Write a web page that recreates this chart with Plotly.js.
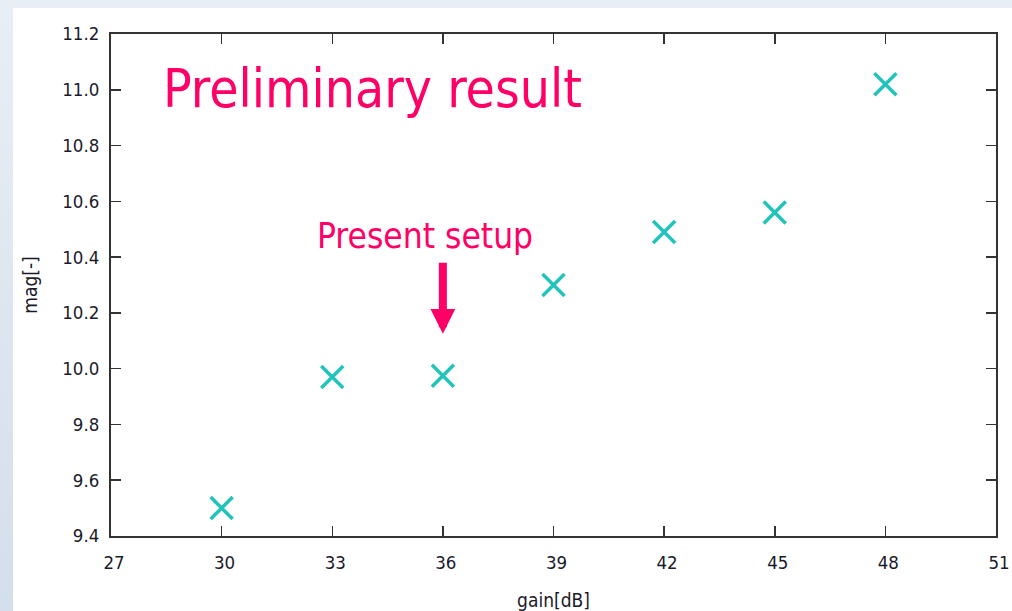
<!DOCTYPE html>
<html>
<head>
<meta charset="utf-8">
<script src="https://cdn.plot.ly/plotly-3.0.1.min.js"></script>
<style>
  html, body { margin: 0; padding: 0; }
  body {
    width: 1012px; height: 611px; overflow: hidden;
    background: linear-gradient(to bottom, #e8eef5 0%, #d3dfeb 100%);
    position: relative;
  }
  #chart { position: absolute; left: 13px; top: 8px; width: 999px; height: 603px; background: #ffffff; }
</style>
</head>
<body>
<div id="chart"></div>
<script>
// Measured magnitude versus amplifier gain
const gainDb = [30, 33, 36, 39, 42, 45, 48];
const mag = [9.50, 9.97, 9.975, 10.30, 10.49, 10.56, 11.02];

// Axis tick values
const xTicks = [27, 30, 33, 36, 39, 42, 45, 48, 51];
const yTicks = [9.4, 9.6, 9.8, 10.0, 10.2, 10.4, 10.6, 10.8, 11.0, 11.2];
const yTickText = ['9.4', '9.6', '9.8', '10.0', '10.2', '10.4', '10.6', '10.8', '11.0', '11.2'];

// Highlighted working point
const presentGain = 36;
const presentLabel = 'Present setup';
const headline = 'Preliminary result';

const FONT = '"DejaVu Sans Condensed", "DejaVu Sans", sans-serif';
const PINK = '#ff0066';
const AXIS = '#333333';
const TEXT = '#1a1a2a';

const trace = {
  x: gainDb,
  y: mag,
  type: 'scatter',
  mode: 'markers',
  marker: {
    symbol: 'x-thin',
    size: 22,
    color: '#20c4bb',
    line: { color: '#20c4bb', width: 3.5 }
  },
  hoverinfo: 'x+y'
};

const presentMag = mag[gainDb.indexOf(presentGain)];

const axisCommon = {
  showline: true,
  linecolor: AXIS,
  linewidth: 2,
  mirror: 'ticks',
  ticks: 'inside',
  ticklen: 10,
  tickwidth: 1.5,
  tickcolor: AXIS,
  showgrid: false,
  zeroline: false,
  tickfont: { family: FONT, size: 18.5, color: TEXT },
  fixedrange: true
};

const layout = {
  width: 999,
  height: 603,
  margin: { l: 98, r: 16, t: 26, b: 75 },
  paper_bgcolor: '#ffffff',
  plot_bgcolor: '#ffffff',
  showlegend: false,
  xaxis: Object.assign({}, axisCommon, {
    range: [27, 51],
    tickmode: 'array',
    tickvals: xTicks,
    ticklabelstandoff: 9,
    ticklabelshift: 3,
    title: { text: 'gain[dB]', font: { family: FONT, size: 19, color: TEXT }, standoff: 22 }
  }),
  yaxis: Object.assign({}, axisCommon, {
    range: [9.4, 11.2],
    tickmode: 'array',
    tickvals: yTicks,
    ticktext: yTickText,
    ticklabelstandoff: 6,
    title: { text: 'mag[-]', font: { family: FONT, size: 19, color: TEXT }, standoff: 20 }
  }),
  annotations: [
    {
      x: 34.08, y: 11.006, xref: 'x', yref: 'y',
      text: headline, showarrow: false,
      font: { family: FONT, size: 53, color: PINK },
      xanchor: 'center', yanchor: 'middle'
    },
    {
      x: 35.52, y: 10.476, xref: 'x', yref: 'y',
      text: presentLabel, showarrow: false,
      font: { family: FONT, size: 35, color: PINK },
      xanchor: 'center', yanchor: 'middle'
    },
    {
      x: presentGain, y: presentMag + 0.15, xref: 'x', yref: 'y',
      ax: presentGain, ay: presentMag + 0.41, axref: 'x', ayref: 'y',
      text: '', showarrow: true,
      arrowhead: 2, arrowsize: 0.62, arrowwidth: 8, arrowcolor: PINK,
      standoff: 0, startstandoff: 0
    }
  ]
};

Plotly.newPlot('chart', [trace], layout, { displayModeBar: false, staticPlot: true });
</script>
</body>
</html>
